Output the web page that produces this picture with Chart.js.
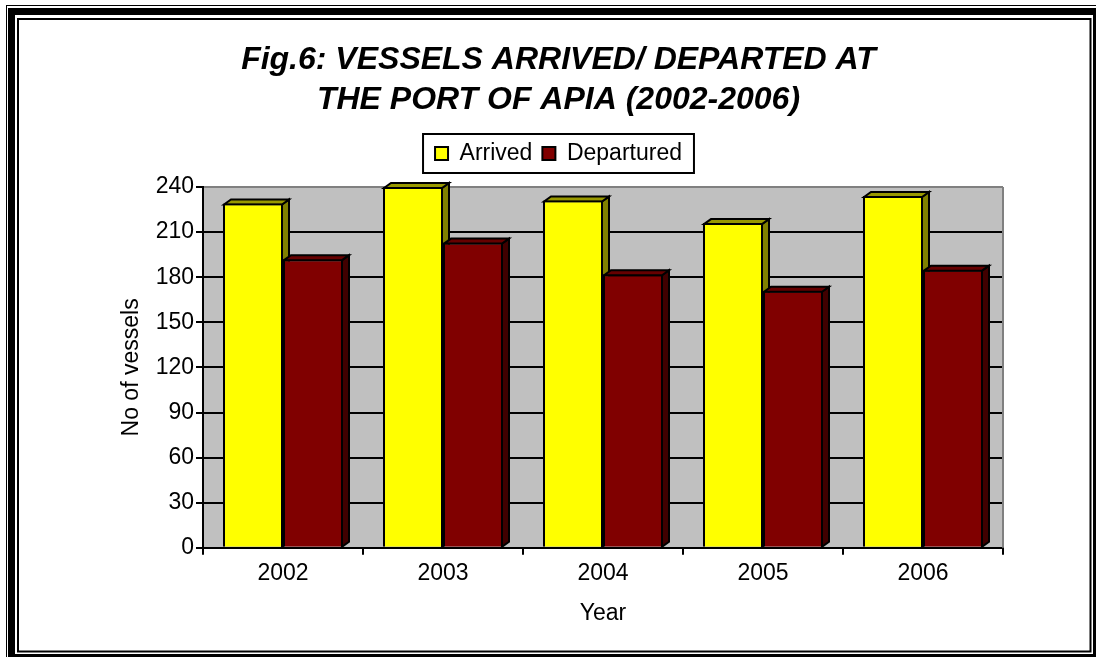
<!DOCTYPE html>
<html><head><meta charset="utf-8">
<script src="https://cdn.jsdelivr.net/npm/chart.js@4"></script>
<style>html,body{margin:0;padding:0;background:#fff;overflow:hidden}</style>
</head><body>
<canvas id="c" width="1096" height="657" style="display:block;width:1096px;height:657px"></canvas>
<script>
const categories = ['2002', '2003', '2004', '2005', '2006'];
const arrived = [229, 240, 231, 216, 234];
const departed = [192, 203, 182, 171, 185];
const yTicks = [0, 30, 60, 90, 120, 150, 180, 210, 240];
const titleLines = ['Fig.6: VESSELS ARRIVED/ DEPARTED AT', 'THE PORT OF APIA (2002-2006)'];
const seriesNames = ['Arrived', 'Departured'];
const yTitle = 'No of vessels';
const xTitle = 'Year';

const FONT = "'Liberation Sans', Arial, sans-serif";
const DX = 7, DY = 5;

function drawFaces(chart, index) {
  const ds = chart.data.datasets[index];
  const meta = chart.getDatasetMeta(index);
  const ctx = chart.ctx;
  meta.data.forEach(el => {
    const p = el.getProps(['x', 'y', 'base', 'width'], true);
    const l = p.x - p.width / 2 + 1, r = p.x + p.width / 2 - 1, y = p.y + 1, base = p.base;
    ctx.save();
    ctx.lineWidth = 2;
    ctx.strokeStyle = '#000';
    ctx.lineJoin = 'miter';
    ctx.beginPath();
    ctx.moveTo(r, y); ctx.lineTo(r + DX, y - DY); ctx.lineTo(r + DX, base - DY); ctx.lineTo(r, base);
    ctx.closePath();
    ctx.fillStyle = ds.sideColor; ctx.fill(); ctx.stroke();
    ctx.beginPath();
    ctx.moveTo(l, y); ctx.lineTo(l + DX, y - DY); ctx.lineTo(r + DX, y - DY); ctx.lineTo(r, y);
    ctx.closePath();
    ctx.fillStyle = ds.topColor; ctx.fill(); ctx.stroke();
    ctx.restore();
  });
}

const framePlugin = {
  id: 'frame',
  beforeDraw(chart) {
    const ctx = chart.ctx;
    ctx.save();
    ctx.fillStyle = '#fff';
    ctx.fillRect(0, 0, 1096, 657);
    ctx.strokeStyle = '#000';
    ctx.lineWidth = 1;
    ctx.strokeRect(6.5, 5.5, 1200, 800);
    ctx.fillStyle = '#000';
    ctx.fillRect(8, 8, 1200, 800);
    ctx.fillStyle = '#fff';
    ctx.fillRect(15, 15, 1093 - 15, 654 - 15);
    ctx.lineWidth = 2;
    ctx.strokeRect(18, 19, 1090.5 - 18, 651.5 - 19);
    const a = chart.chartArea;
    ctx.fillStyle = '#C0C0C0';
    ctx.fillRect(a.left, a.top, a.right - a.left, a.bottom - a.top);
    ctx.restore();
  },
  beforeDatasetsDraw(chart) {
    const ctx = chart.ctx, a = chart.chartArea;
    ctx.save();
    ctx.strokeStyle = '#808080';
    ctx.lineWidth = 2;
    ctx.beginPath();
    ctx.moveTo(a.right, a.top);
    ctx.lineTo(a.right, a.bottom);
    ctx.stroke();
    ctx.restore();
    // side/top faces of the front series sit behind the second series' front faces
    drawFaces(chart, 0);
  },
  afterDatasetsDraw(chart) {
    drawFaces(chart, 1);
  },
  afterDraw(chart) {
    const leg = chart.legend;
    if (!leg || !leg.legendHitBoxes || !leg.legendHitBoxes.length) return;
    const hb = leg.legendHitBoxes;
    let l = Infinity, r = -Infinity, t = Infinity, b = -Infinity;
    hb.forEach(h => { l = Math.min(l, h.left); r = Math.max(r, h.left + h.width); t = Math.min(t, h.top); b = Math.max(b, h.top + h.height); });
    const ctx = chart.ctx;
    ctx.save();
    ctx.strokeStyle = '#000';
    ctx.lineWidth = 2;
    ctx.strokeRect(l - 12, t - 8, (r - l) + 24, (b - t) + 16);
    ctx.restore();
  }
};

new Chart(document.getElementById('c'), {
  type: 'bar',
  data: {
    labels: categories,
    datasets: [
      { label: seriesNames[0], data: arrived, backgroundColor: '#FFFF00', borderColor: '#000', borderWidth: 2,
        sideColor: '#808000', topColor: '#999900' },
      { label: seriesNames[1], data: departed, backgroundColor: '#800000', borderColor: '#000', borderWidth: 2,
        sideColor: '#400000', topColor: '#660000' }
    ]
  },
  options: {
    responsive: false,
    animation: false,
    devicePixelRatio: 1,
    layout: { padding: { left: 114, right: 93, top: 20, bottom: 26 } },
    datasets: { bar: { categoryPercentage: 0.75, barPercentage: 1.0 } },
    plugins: {
      tooltip: { enabled: false },
      title: {
        display: true, text: titleLines, color: '#000',
        font: { family: FONT, size: 32, weight: 'bold', style: 'italic', lineHeight: 1.25 },
        padding: { top: 20, bottom: 12 }
      },
      subtitle: {
        display: true, text: ' ', position: 'top', weight: 500,
        font: { size: 1, lineHeight: 1 },
        padding: { top: 0, bottom: 11 }
      },
      legend: {
        display: true, position: 'top',
        labels: {
          color: '#000', boxWidth: 13, boxHeight: 13, padding: 10,
          font: { family: FONT, size: 23 }
        }
      }
    },
    scales: {
      x: {
        grid: { drawOnChartArea: false, drawTicks: true, tickLength: 7, tickColor: '#000', lineWidth: 2, offset: true },
        border: { color: '#000', width: 2 },
        ticks: { color: '#000', padding: 5, font: { family: FONT, size: 23 } },
        title: { display: true, text: xTitle, color: '#000', font: { family: FONT, size: 23 }, padding: { top: 7, bottom: 4 } }
      },
      y: {
        min: 0, max: 240,
        afterBuildTicks: s => { s.ticks = yTicks.map(v => ({ value: v })); },
        afterFit: s => { s.width = 89; },
        grid: {
          color: c => (c.tick && c.tick.value === 240) ? '#808080' : '#000',
          tickColor: '#000', lineWidth: 2, tickLength: 7
        },
        border: { color: '#000', width: 2 },
        ticks: { color: '#000', padding: 2, font: { family: FONT, size: 23 } },
        title: { display: true, text: yTitle, color: '#000', font: { family: FONT, size: 23 }, padding: { top: 4, bottom: 4 } }
      }
    }
  },
  plugins: [framePlugin]
});
</script>
</body></html>
